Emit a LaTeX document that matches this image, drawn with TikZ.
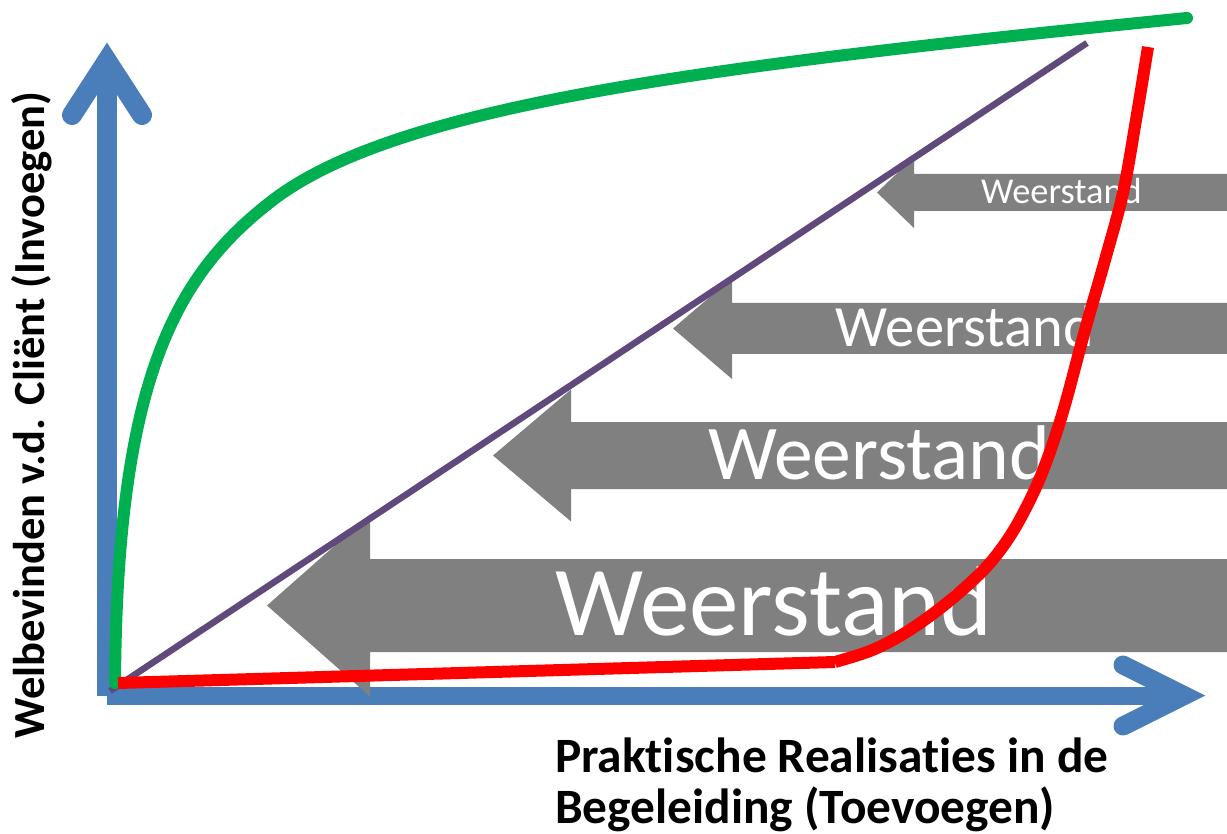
\documentclass[tikz,border=0pt]{standalone}
\usepackage{fontspec}
\setmainfont{Carlito}[Ligatures=NoCommon]
\begin{document}
\begin{tikzpicture}[x=1pt,y=-1pt,
  axisline/.style={draw=axisblue,line join=miter,miter limit=10},
  resist/.style={fill=arrowgrey,draw=none},
  resisttext/.style={text=white,inner sep=0pt,anchor=base},
  axislabel/.style={inner sep=0pt,font=\bfseries}]
\definecolor{axisblue}{HTML}{4A7EBB}
\definecolor{arrowgrey}{HTML}{808080}
\definecolor{curvegreen}{HTML}{00B050}
\definecolor{diagpurple}{HTML}{604A7B}
\definecolor{curvered}{HTML}{FF0000}
\useasboundingbox (0,0) rectangle (1227,834);

% axes
\coordinate (O) at (107,696);
\coordinate (ytop) at (107,61);
\coordinate (xend) at (1184,695.5);
\draw[axisline,line width=20pt] (O) -- (107,70);
\draw[axisline,line width=20pt,line cap=round] (72,115) -- (ytop) -- (142,115);
\draw[axisline,line width=18pt] (107,695.5) -- (1175,695.5);
\draw[axisline,line width=19pt,line cap=round] (1123,665) -- (xend) -- (1123,726);

% resistance arrows (pointing left, running off the right edge)
\newcommand{\resistarrow}[7]{% tip x, centre y, head back x, body half, head half, text x, size
  \fill[resist] (#1,#2) -- (#3,#2-#5) -- (#3,#2-#4) -- (1240,#2-#4)
     -- (1240,#2+#4) -- (#3,#2+#4) -- (#3,#2+#5) -- cycle;
  \node[resisttext,font=\fontsize{#7}{#7}\selectfont] at (#6,#2+0.305*#7) {Weerstand};
}
\resistarrow{877}{192.5}{914}{18.5}{35.5}{1061.5}{36.4}
\resistarrow{673}{328.5}{732}{25.5}{50.5}{965}{58.5}
\resistarrow{493}{455.5}{571}{33.5}{66}{879}{77.5}
\resistarrow{267}{605.5}{370}{46.5}{91}{774}{99}

% diagonal reference line
\coordinate (d0) at (110,691);
\coordinate (d1) at (1087,43);
\draw[diagpurple,line width=6.5pt] (d0) -- (d1);

% green curve
\coordinate (g0) at (115,683);
\coordinate (g1) at (273,200);
\coordinate (g2) at (1187,18);
\draw[curvegreen,line width=12pt,line cap=round,line join=round]
  (g0) .. controls (117,380) and (175,275) .. (g1)
       .. controls (400,103) and (720,65) .. (g2);

% red curve
\draw[curvered,line width=12pt,line join=round]
  (118,683) -- (835,662)
  plot[smooth,tension=0.55] coordinates {(835,662) (870,651) (900,636) (930,616)
  (960,592) (990,563) (1015,528) (1040,478) (1062,415) (1085,330) (1105,260)
  (1123,193) (1136,120) (1148,47)};

% axis labels
\node[axislabel,rotate=90,anchor=base,font=\bfseries\fontsize{44.5}{44.5}\selectfont]
  (ylab) at (45,415) {Welbevinden v.d. Cliënt (Invoegen)};
\node[axislabel,anchor=base west,align=left,
  font=\bfseries\fontsize{49.4}{51}\selectfont] (xlab) at (555,823)
  {Praktische Realisaties in de\\Begeleiding (Toevoegen)};
\end{tikzpicture}
\end{document}
